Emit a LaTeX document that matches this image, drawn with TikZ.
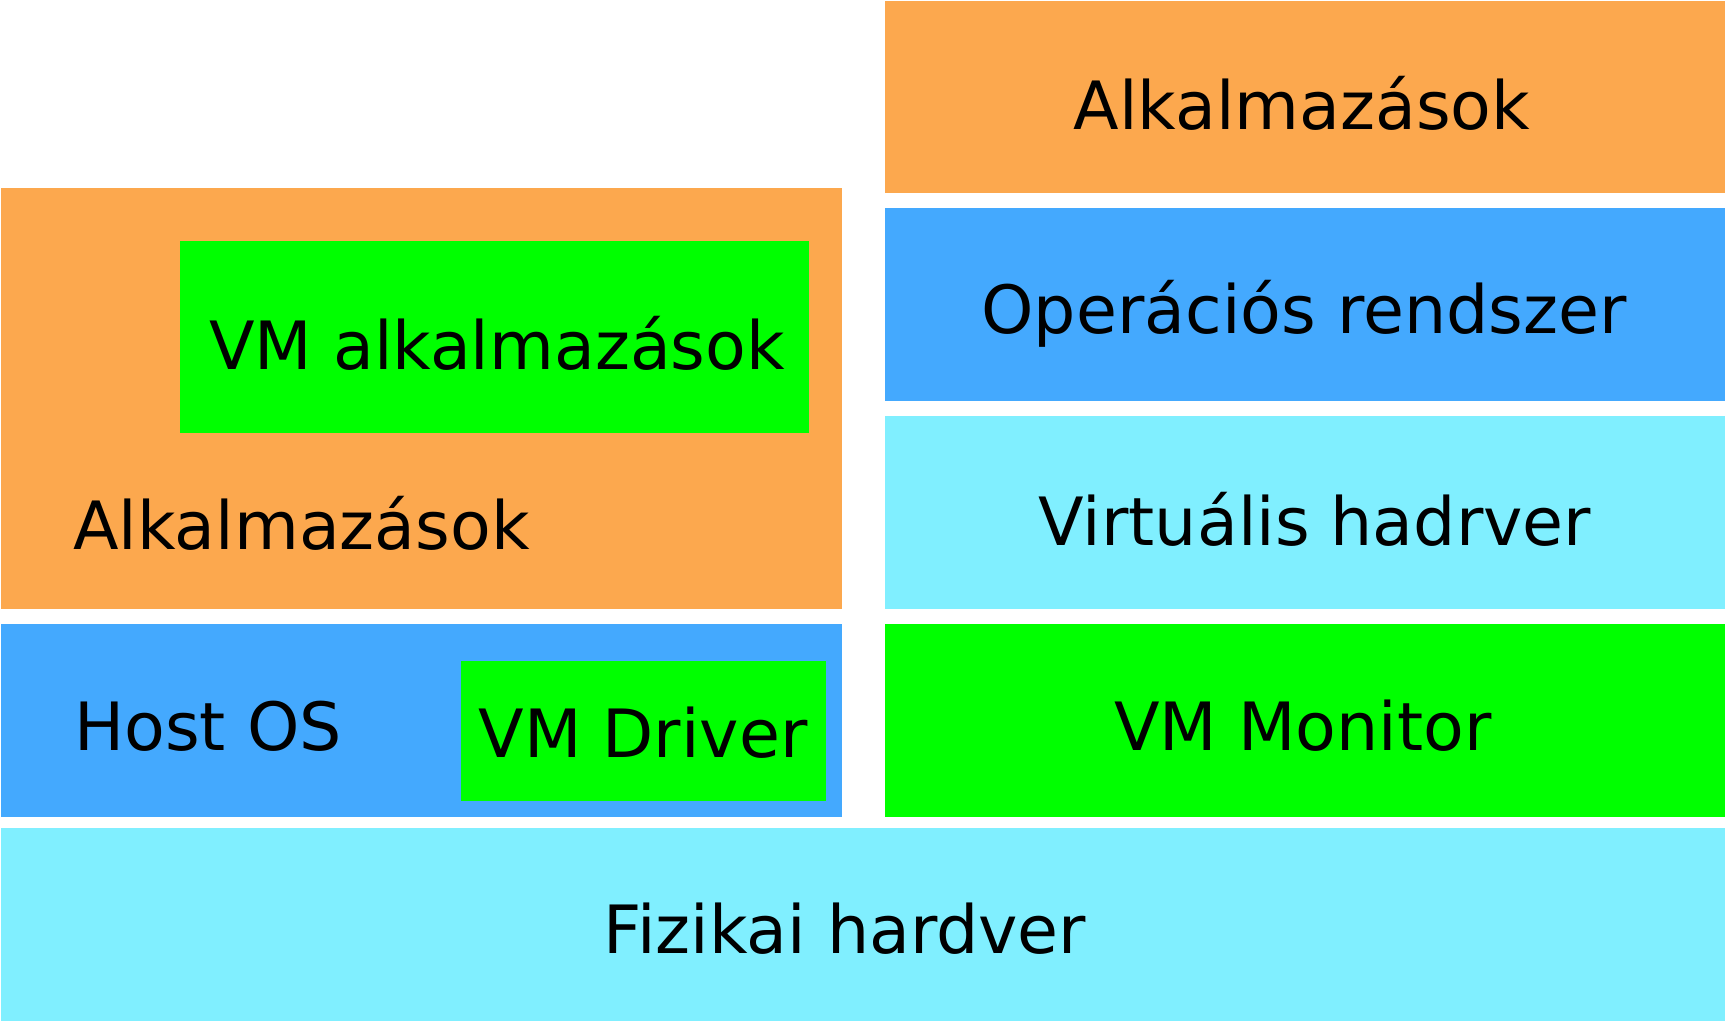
\documentclass[tikz,border=0pt]{standalone}
\usepackage{fontspec}
\setmainfont{DejaVu Sans}
\definecolor{cOrange}{RGB}{252,168,78}
\definecolor{cBlue}{RGB}{68,169,254}
\definecolor{cCyan}{RGB}{128,239,255}
\definecolor{cGreen}{RGB}{0,255,0}
\tikzset{
  layer/.style={draw=none},
  lbl/.style={anchor=base, inner sep=0pt, font=\fontsize{37.9}{45}\selectfont, text=black},
  lbll/.style={lbl, anchor=base west}
}
\begin{document}
\begin{tikzpicture}[x=0.02cm,y=-0.02cm]
\useasboundingbox (0,0) rectangle (1729,1025);
% right stack
\path[layer,fill=cOrange] (885,1) rectangle (1725,193);
\path[layer,fill=cBlue] (885,208) rectangle (1725,401);
\path[layer,fill=cCyan] (885,416) rectangle (1725,609);
\path[layer,fill=cGreen] (885,624) rectangle (1725,817);
% bottom
\path[layer,fill=cCyan] (1,828) rectangle (1725,1021);
% left stack
\path[layer,fill=cOrange] (1,188) rectangle (842,609);
\path[layer,fill=cGreen] (180,241) rectangle (809,433);
\path[layer,fill=cBlue] (1,624) rectangle (842,817);
\path[layer,fill=cGreen] (461,661) rectangle (826,801);
% labels
\node[lbl] (tAppsR) at (1302,129) {Alkalmazások};
\node[lbl] (tOS) at (1304,333) {Operációs rendszer};
\node[lbl] (tVHW) at (1315,545) {Virtuális hadrver};
\node[lbl] (tVMM) at (1303,750) {VM Monitor};
\node[lbl] (tPhys) at (845,953) {Fizikai hardver};
\node[lbl] (tVMApps) at (497,369) {VM alkalmazások};
\node[lbll] (tAppsL) at (73,549) {Alkalmazások};
\node[lbll] (tHost) at (74,750) {Host OS};
\node[lbl] (tDrv) at (643,757) {VM Driver};
\end{tikzpicture}
\end{document}
